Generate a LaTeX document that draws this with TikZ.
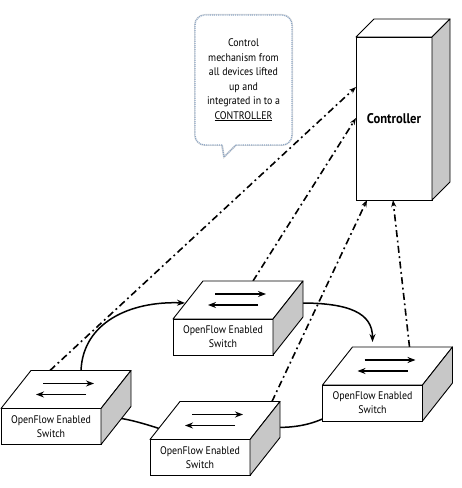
\documentclass[tikz,border=0pt]{standalone}
\usepackage{fontspec}
\setmainfont{PT Sans}[FakeStretch=0.9]
\usetikzlibrary{calc,arrows.meta}
\pgfdeclarelayer{background}
\pgfsetlayers{background,main}
\definecolor{calloutline}{RGB}{140,165,195}
\newcommand\swfaces[1]{%
  \draw[topface] (#1.north west) -- ++(30,38) -- ($(#1.north east)+(30,38)$) -- (#1.north east) -- cycle;
  \draw[sideface] (#1.north east) -- ++(30,38) -- ++(0,-36) -- (#1.south east) -- cycle;
  \draw[flow] ($(#1.north west)+(42,25)$) -- ++(51,0);
  \draw[flow] ($(#1.north west)+(85,14)$) -- ++(-50,0);
}
\begin{document}
\begin{tikzpicture}[x=1pt,y=1pt,
  front/.style={draw=black, line width=0.9pt, fill=white, minimum width=100pt, minimum height=36pt,
    inner sep=0pt, outer sep=0pt, align=center, font=\fontsize{11}{14}\selectfont},
  topface/.style={draw=black, line width=0.9pt, fill=white, line join=round},
  sideface/.style={draw=black, line width=0.9pt, fill=black!22, line join=round},
  flow/.style={line width=1.7pt, -{Stealth[length=8pt,width=6pt]}},
  ring/.style={line width=1.5pt},
  ringarrow/.style={ring, -{Stealth[length=8pt,width=6pt]}},
  ctrlline/.style={line width=1.6pt, dash pattern=on 7pt off 3.5pt on 1.8pt off 3.5pt,
    -{Stealth[length=7pt,width=5pt]}},
  cbox/.style={draw=calloutline, line width=1.3pt, dash pattern=on 1pt off 0.9pt}
]
\useasboundingbox (0,0) rectangle (462,488);

% switches (front faces as nodes) and their 3D faces
\node[front] (s1) at (51,61.5) {OpenFlow Enabled\\Switch};
\node[front] (s2) at (223,151) {OpenFlow Enabled\\Switch};
\node[front] (s3) at (372.5,85) {OpenFlow Enabled\\Switch};
\node[front] (s4) at (200,30.5) {OpenFlow Enabled\\Switch};
\swfaces{s1}
\swfaces{s2}
\swfaces{s3}
\swfaces{s4}

% controller
\node[draw=black, line width=0.9pt, fill=white, minimum width=76pt, minimum height=163pt,
  inner sep=0pt, outer sep=0pt, font=\fontsize{14}{16}\selectfont\bfseries] (ctrl) at (394,369.5) {Controller};
\draw[topface] (ctrl.north west) -- ++(18,18) -- ($(ctrl.north east)+(18,18)$) -- (ctrl.north east) -- cycle;
\draw[sideface] (ctrl.north east) -- ++(18,18) -- ++(0,-163) -- (ctrl.south east) -- cycle;

% connectors behind the boxes
\begin{pgfonlayer}{background}
\coordinate (r1a) at ($(s1.north west)+(80,38)$);
\coordinate (r1b) at ($(s2.north west)+(12,16)$);
\coordinate (r2a) at ($(s2.north east)+(28,16)$);
\coordinate (r2b) at ($(s3.north west)+(50,43)$);
\coordinate (r3a) at ($(s3.south west)+(2,3)$);
\coordinate (r3b) at ($(s4.north east)+(26,12)$);
\coordinate (r4a) at ($(s4.north west)+(9,11)$);
\coordinate (r4b) at ($(s1.north east)+(20,-10)$);
\draw[ringarrow] (r1a) .. controls ($(r1a)+(2,48)$) and ($(r1b)+(-55,2)$) .. (r1b);
\draw[ringarrow] (r2a) .. controls ($(r2a)+(48,0)$) and ($(r2b)+(0,29)$) .. (r2b);
\draw[ring] (r3a) .. controls ($(r3a)+(-17,-8)$) and ($(r3b)+(15,0)$) .. (r3b);
\draw[ring] (r4a) .. controls ($(r4a)+(-15,5)$) and ($(r4b)+(8,-1)$) .. (r4b);

\draw[ctrlline] ($(s1.north west)+(49,38)$) -- ($(ctrl.north west)+(0,-50)$);
\draw[ctrlline] ($(s2.north west)+(80,38)$) -- ($(ctrl.north west)+(0,-81)$);
\draw[ctrlline] ($(s4.north west)+(122,38)$) -- ($(ctrl.south west)+(11,0)$);
\draw[ctrlline] ($(s3.north west)+(87,38)$) -- ($(ctrl.south west)+(37,0)$);
\end{pgfonlayer}

% callout
\coordinate (cosw) at (195,343);
\coordinate (cone) at (292,473);
\begin{scope}[shift={(1.5,-1.5)}, draw=black!12, line width=2pt]
\draw[rounded corners=10pt] ($(cosw)+(27,0)$) -- (cosw) -- (cosw|-cone) -- (cone) -- (cone|-cosw) -- ($(cosw)+(41,0)$);
\draw ($(cosw)+(41,0)$) -- ($(cosw)+(29,-12)$) -- ($(cosw)+(27,0)$);
\end{scope}
\fill[white, rounded corners=10pt] (cosw) rectangle (cone);
\draw[cbox, rounded corners=10pt] ($(cosw)+(27,0)$) -- (cosw) -- (cosw|-cone) -- (cone) -- (cone|-cosw) -- ($(cosw)+(41,0)$);
\draw[cbox] ($(cosw)+(41,0)$) -- ($(cosw)+(29,-12)$) -- ($(cosw)+(27,0)$);
\node[align=center, inner sep=0pt, font=\fontsize{11}{14.5}\selectfont] (co) at ($(cosw)!0.5!(cone)$)
  {Control\\mechanism from\\all devices lifted\\up and\\integrated in to a\\\underline{CONTROLLER}};
\end{tikzpicture}
\end{document}
